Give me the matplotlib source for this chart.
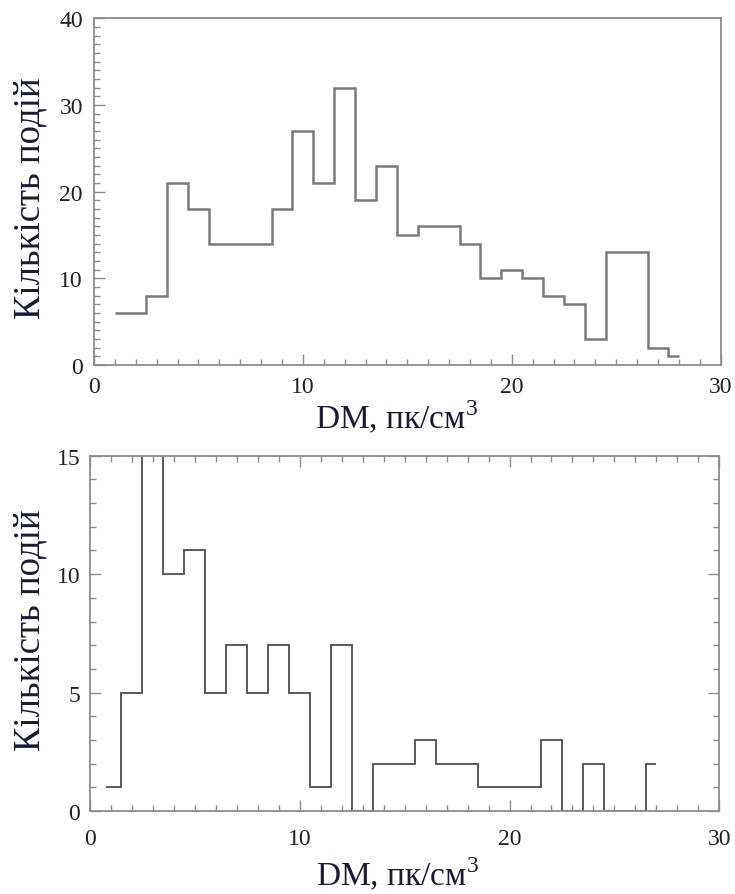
import numpy as np
import matplotlib
matplotlib.use("Agg")
import matplotlib.pyplot as plt
from matplotlib.ticker import MultipleLocator

plt.rcParams["font.family"] = ["Liberation Serif", "DejaVu Serif"]
plt.rcParams["mathtext.fontset"] = "custom"
plt.rcParams["mathtext.rm"] = "Liberation Serif"

# верхня гістограма: межі бінів та кількість подій
top_edges = [1.0] + [k + 0.5 for k in range(2, 28)] + [28.0]
top_counts = [6, 8, 21, 18, 14, 14, 14, 18, 27, 21, 32, 19, 23, 15,
              16, 16, 14, 10, 11, 10, 8, 7, 3, 13, 13, 2, 1]

# нижня гістограма
bot_edges = [0.75] + [k + 0.5 for k in range(1, 27)] + [27.0]
bot_counts = [1, 5, 17, 10, 11, 5, 7, 5, 7, 5, 1, 7, 0, 2,
              2, 3, 2, 2, 1, 1, 1, 3, 0, 2, 0, 0, 2]

x_ticks = [0, 10, 20, 30]
top_yticks = [0, 10, 20, 30, 40]
bot_yticks = [0, 5, 10, 15]

ylabel = "Кількість подій"
xlabel = "DM, пк/см$^{\\mathrm{3}}$"

W, H = 735, 895
fig = plt.figure(figsize=(W / 100, H / 100), dpi=100)

def frac(l, t, r, b):
    return [l / W, 1 - b / H, (r - l) / W, (b - t) / H]

ax1 = fig.add_axes(frac(94, 19.3, 720.7, 366))
ax2 = fig.add_axes(frac(90, 456.7, 719.3, 812))

spine_col = "#8c8c8c"
label_col = "#1a1a33"
tick_col = "#222222"

def style(ax, ymax, ytk, all_sides):
    ax.set_xlim(0, 30)
    ax.set_ylim(0, ymax)
    ax.set_xticks(x_ticks)
    ax.set_yticks(ytk)
    ax.xaxis.set_minor_locator(MultipleLocator(1))
    ax.yaxis.set_minor_locator(MultipleLocator(1))
    for s in ax.spines.values():
        s.set_color(spine_col)
        s.set_linewidth(1.3)
    ax.tick_params(which="both", direction="in", color=spine_col, width=1.0,
                   top=all_sides, right=all_sides, labelsize=17,
                   labelcolor=tick_col)
    ax.tick_params(which="major", length=8)
    ax.tick_params(which="minor", length=4)

style(ax1, 40, top_yticks, False)
ax1.tick_params(axis="x", pad=8)
ax1.tick_params(axis="y", pad=8)
ax1.stairs(top_counts, top_edges, baseline=None, color="#7a7a7a", linewidth=1.8)

style(ax2, 15, bot_yticks, True)
ax2.tick_params(axis="x", pad=12)
ax2.tick_params(axis="y", pad=7)
ax2.stairs(bot_counts, bot_edges, baseline=None, color="#5a5a5a", linewidth=1.4)

for ax, xl, yl in [(ax1, (0.482, -0.095), (-0.074, 0.484)),
                   (ax2, (0.488, -0.125), (-0.067, 0.513))]:
    ax.set_xlabel(xlabel, fontsize=24, color=label_col)
    ax.set_ylabel(ylabel, fontsize=26.5, color=label_col)
    ax.xaxis.set_label_coords(*xl)
    ax.yaxis.set_label_coords(*yl)

fig.savefig("out.png", dpi=100)
